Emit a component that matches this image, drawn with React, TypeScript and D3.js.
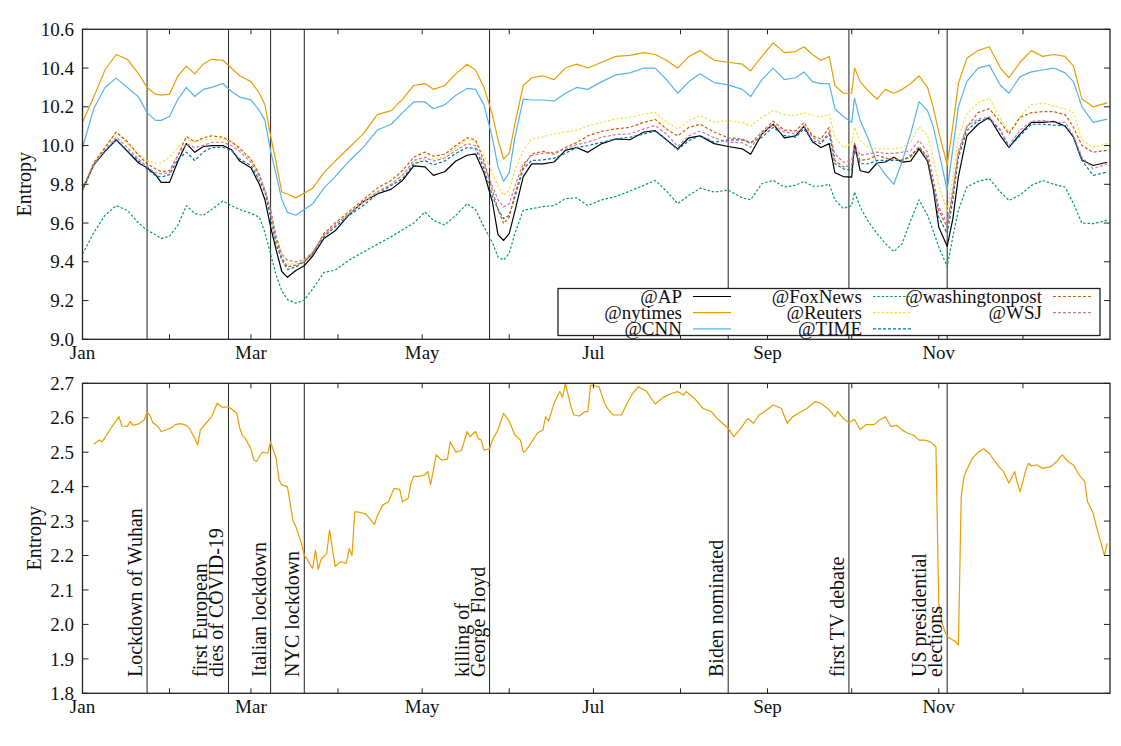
import * as d3 from "d3";

// day index in 2020 (0 = Jan 1) of every sample in the top panel
const sampleDays = [
  0, 4, 8, 12, 16, 20, 23, 26, 28, 31, 34, 37, 40, 43, 46, 50, 53, 56, 60, 63,
  65, 67, 69, 71, 73, 76, 79, 82, 86, 90, 95, 100, 105, 110, 114, 118, 122, 125, 129, 133,
  137, 140, 143, 146, 148, 150, 152, 154, 157, 160, 164, 168, 172, 176, 180, 185, 190, 195, 200, 204,
  208, 212, 216, 220, 225, 230, 235, 238, 242, 246, 250, 254, 257, 260, 263, 266, 268, 271, 274, 275,
  277, 280, 283, 286, 289, 292, 295, 298, 301, 303, 305, 308, 310, 312, 315, 319, 323, 327, 330, 334,
  338, 342, 346, 350, 353, 356, 360, 365,
];

const apValues = [
  9.77, 9.9, 9.97, 10.03, 9.97, 9.91, 9.885, 9.85, 9.81, 9.81,
  9.92, 10.01, 9.965, 9.995, 10.0, 10.0, 9.98, 9.92, 9.885, 9.8,
  9.72, 9.58, 9.46, 9.35, 9.32, 9.355, 9.38, 9.43, 9.52, 9.56,
  9.645, 9.71, 9.75, 9.775, 9.82, 9.895, 9.89, 9.846, 9.865, 9.92,
  9.95, 9.957, 9.86, 9.71, 9.54, 9.51, 9.545, 9.66, 9.84, 9.905,
  9.905, 9.915, 9.975, 9.99, 9.965, 10.01, 10.034, 10.03, 10.07, 10.077,
  10.03, 9.983, 10.04, 10.05, 10.01, 9.995, 9.983, 9.955, 10.06, 10.11,
  10.04, 10.05, 10.1, 10.02, 9.99, 10.01, 9.86, 9.84, 9.837, 10.01,
  9.87, 9.86, 9.91, 9.915, 9.94, 9.914, 9.92, 9.983, 9.92, 9.78,
  9.58, 9.48, 9.62, 9.84, 10.05, 10.11, 10.146, 10.05, 9.99, 10.06,
  10.12, 10.12, 10.125, 10.1, 10.043, 9.925, 9.897, 9.914,
];
const nytimesValues = [
  10.12, 10.25, 10.39, 10.47, 10.445, 10.37, 10.3, 10.265, 10.26, 10.265,
  10.36, 10.41, 10.37, 10.42, 10.445, 10.44, 10.4, 10.36, 10.33, 10.27,
  10.21, 10.05, 9.91, 9.76, 9.75, 9.73, 9.755, 9.78, 9.86, 9.92,
  9.99, 10.06, 10.16, 10.18, 10.24, 10.31, 10.32, 10.29, 10.31, 10.37,
  10.42, 10.39, 10.3, 10.16, 10.03, 9.93, 9.96, 10.11, 10.31, 10.35,
  10.36, 10.34, 10.4, 10.42, 10.4, 10.43, 10.46, 10.465, 10.48, 10.47,
  10.44, 10.4, 10.46, 10.49, 10.44, 10.43, 10.42, 10.385, 10.46, 10.53,
  10.48, 10.485, 10.51, 10.47, 10.44, 10.46, 10.31, 10.27, 10.27, 10.4,
  10.33, 10.28, 10.24, 10.29, 10.27, 10.29, 10.32, 10.36, 10.3, 10.2,
  10.07, 9.9, 10.1, 10.32, 10.45, 10.49, 10.51, 10.4, 10.35, 10.43,
  10.49, 10.46, 10.47, 10.46, 10.41, 10.24, 10.2, 10.22,
];
const cnnValues = [
  9.99, 10.19, 10.3, 10.348, 10.3, 10.25, 10.17, 10.13, 10.13, 10.15,
  10.24, 10.3, 10.253, 10.29, 10.3, 10.32, 10.28, 10.25, 10.236, 10.18,
  10.13, 9.97, 9.85, 9.72, 9.655, 9.64, 9.67, 9.7, 9.78, 9.84,
  9.92, 9.99, 10.08, 10.11, 10.17, 10.225, 10.225, 10.19, 10.21, 10.26,
  10.295, 10.29, 10.21, 10.04, 9.89, 9.815, 9.86, 10.04, 10.24, 10.235,
  10.235, 10.23, 10.27, 10.3, 10.29, 10.33, 10.365, 10.375, 10.4, 10.4,
  10.34, 10.27, 10.33, 10.37, 10.325, 10.313, 10.29, 10.253, 10.34, 10.4,
  10.34, 10.35, 10.38, 10.33, 10.32, 10.32, 10.19, 10.15, 10.12, 10.245,
  10.13, 10.03, 9.91, 9.85, 9.8, 9.92, 10.06, 10.227, 10.18, 10.1,
  9.97, 9.77, 9.98, 10.2, 10.33, 10.4, 10.415, 10.31, 10.27, 10.356,
  10.38, 10.39, 10.4, 10.375, 10.33, 10.2, 10.12, 10.136,
];
const foxnewsValues = [
  9.44, 9.55, 9.64, 9.69, 9.665, 9.6, 9.563, 9.54, 9.52, 9.532,
  9.59, 9.69, 9.649, 9.64, 9.67, 9.714, 9.69, 9.67, 9.65, 9.63,
  9.55, 9.44, 9.33, 9.25, 9.205, 9.186, 9.203, 9.26, 9.345, 9.357,
  9.409, 9.45, 9.49, 9.53, 9.565, 9.6, 9.657, 9.614, 9.59, 9.64,
  9.7, 9.67, 9.58, 9.5, 9.426, 9.409, 9.443, 9.546, 9.666, 9.674,
  9.685, 9.69, 9.726, 9.73, 9.69, 9.72, 9.737, 9.765, 9.795, 9.82,
  9.765, 9.7, 9.743, 9.78, 9.76, 9.77, 9.73, 9.72, 9.803, 9.82,
  9.786, 9.795, 9.815, 9.79, 9.79, 9.8, 9.72, 9.675, 9.69, 9.76,
  9.683, 9.606, 9.546, 9.494, 9.452, 9.494, 9.614, 9.72, 9.64, 9.56,
  9.477, 9.375, 9.529, 9.666, 9.786, 9.815, 9.829, 9.76, 9.717, 9.745,
  9.794, 9.82, 9.8, 9.786, 9.7, 9.6, 9.597, 9.614,
];
const reutersValues = [
  9.78, 9.91, 9.99, 10.07, 10.01, 9.955, 9.923, 9.91, 9.91, 9.94,
  9.99, 10.03, 10.02, 10.03, 10.034, 10.034, 10.02, 9.99, 9.923, 9.85,
  9.77, 9.65, 9.52, 9.44, 9.39, 9.388, 9.405, 9.45, 9.537, 9.59,
  9.65, 9.7, 9.765, 9.8, 9.85, 9.91, 9.93, 9.93, 9.94, 9.99,
  10.03, 10.02, 9.95, 9.86, 9.79, 9.743, 9.77, 9.87, 9.974, 10.034,
  10.045, 10.06, 10.07, 10.08, 10.1, 10.12, 10.137, 10.146, 10.163, 10.17,
  10.12, 10.086, 10.129, 10.155, 10.12, 10.129, 10.12, 10.1, 10.146, 10.18,
  10.16, 10.155, 10.17, 10.155, 10.146, 10.163, 10.043, 9.99, 10.009, 10.094,
  10.026, 9.99, 9.983, 9.983, 9.983, 9.99, 10.017, 10.098, 10.05, 9.94,
  9.8, 9.66, 9.837, 10.043, 10.163, 10.22, 10.245, 10.14, 10.07, 10.15,
  10.21, 10.22, 10.205, 10.19, 10.17, 10.03, 9.99, 10.01,
];
const timeValues = [
  9.78, 9.9, 9.97, 10.03, 9.974, 9.92, 9.88, 9.845, 9.837, 9.85,
  9.93, 9.966, 9.923, 9.966, 9.99, 9.99, 9.975, 9.93, 9.897, 9.82,
  9.76, 9.63, 9.49, 9.41, 9.36, 9.374, 9.4, 9.443, 9.529, 9.58,
  9.64, 9.69, 9.75, 9.794, 9.829, 9.906, 9.923, 9.9, 9.92, 9.96,
  9.99, 9.985, 9.88, 9.74, 9.67, 9.623, 9.64, 9.734, 9.88, 9.923,
  9.926, 9.935, 9.96, 9.99, 10.0, 10.017, 10.034, 10.043, 10.06, 10.074,
  10.03, 9.978, 10.026, 10.051, 10.017, 10.029, 10.029, 10.017, 10.043, 10.094,
  10.051, 10.043, 10.086, 10.026, 10.009, 10.06, 9.906, 9.88, 9.871, 9.974,
  9.906, 9.906, 9.923, 9.923, 9.923, 9.923, 9.949, 9.991, 9.923, 9.786,
  9.63, 9.546, 9.717, 9.94, 10.077, 10.129, 10.137, 10.077, 9.991, 10.051,
  10.11, 10.11, 10.105, 10.103, 10.043, 9.923, 9.846, 9.863,
];
const washingtonpostValues = [
  9.77, 9.91, 9.99, 10.07, 10.02, 9.95, 9.906, 9.88, 9.866, 9.87,
  9.95, 10.046, 10.02, 10.04, 10.05, 10.043, 10.02, 9.985, 9.93, 9.85,
  9.77, 9.666, 9.52, 9.42, 9.374, 9.383, 9.4, 9.443, 9.546, 9.6,
  9.66, 9.72, 9.78, 9.82, 9.871, 9.94, 9.966, 9.945, 9.955, 10.0,
  10.04, 10.03, 9.92, 9.77, 9.67, 9.597, 9.63, 9.75, 9.89, 9.957,
  9.97, 9.955, 9.99, 10.015, 10.05, 10.074, 10.086, 10.094, 10.12, 10.135,
  10.085, 10.05, 10.094, 10.11, 10.07, 10.04, 10.034, 10.01, 10.07, 10.125,
  10.08, 10.075, 10.12, 10.05, 10.034, 10.094, 9.923, 9.89, 9.897, 9.99,
  9.923, 9.93, 9.95, 9.935, 9.93, 9.925, 9.94, 9.995, 9.94, 9.8,
  9.666, 9.58, 9.75, 9.957, 10.094, 10.17, 10.19, 10.12, 10.06, 10.146,
  10.17, 10.175, 10.175, 10.16, 10.094, 10.0, 9.966, 9.975,
];
const wsjValues = [
  9.77, 9.9, 9.98, 10.043, 9.99, 9.93, 9.892, 9.86, 9.854, 9.86,
  9.95, 10.009, 9.99, 10.0, 10.017, 10.017, 10.0, 9.97, 9.914, 9.84,
  9.77, 9.666, 9.53, 9.44, 9.409, 9.4, 9.41, 9.45, 9.537, 9.59,
  9.65, 9.71, 9.76, 9.8, 9.846, 9.923, 9.94, 9.92, 9.935, 9.975,
  10.01, 10.0, 9.9, 9.79, 9.72, 9.683, 9.7, 9.79, 9.906, 9.949,
  9.96, 9.965, 9.98, 10.005, 10.017, 10.043, 10.057, 10.06, 10.086, 10.103,
  10.06, 9.995, 10.05, 10.075, 10.04, 10.017, 10.015, 9.991, 10.06, 10.11,
  10.07, 10.06, 10.1, 10.043, 10.017, 10.068, 9.957, 9.914, 9.923, 10.009,
  9.95, 9.957, 9.966, 9.96, 9.96, 9.966, 9.974, 10.026, 9.966, 9.829,
  9.683, 9.6, 9.77, 9.974, 10.1, 10.137, 10.146, 10.08, 10.0, 10.08,
  10.125, 10.13, 10.12, 10.12, 10.051, 9.94, 9.88, 9.906,
];

// bottom panel: entropy of the whole corpus
const bottomDays = [
  4, 6, 7, 9, 11, 13, 14, 16, 17, 18,
  20, 22, 23, 24, 25, 27, 28, 30, 32, 33,
  35, 37, 38, 40, 41, 42, 44, 46, 48, 50,
  52, 55, 56, 57, 58, 60, 61, 62, 64, 66,
  67, 69, 70, 71, 73, 74, 75, 76, 77, 78,
  79, 80, 81, 82, 83, 84, 85, 86, 87, 88,
  90, 92, 94, 95, 96, 97, 99, 101, 103, 104,
  105, 107, 109, 111, 113, 114, 116, 117, 118, 120,
  122, 123, 124, 126, 128, 130, 131, 133, 135, 137,
  138, 140, 141, 142, 143, 145, 146, 148, 150, 152,
  154, 156, 157, 158, 160, 162, 164, 165, 166, 168,
  170, 171, 172, 174, 175, 177, 179, 180, 181, 184,
  186, 187, 189, 192, 194, 196, 198, 201, 204, 207,
  210, 212, 214, 215, 218, 221, 224, 226, 228, 230,
  232, 234, 237, 239, 241, 243, 246, 249, 251, 253,
  255, 258, 261, 263, 266, 268, 269, 271, 273, 275,
  277, 279, 282, 284, 286, 288, 290, 292, 294, 296,
  298, 300, 302, 304, 305, 306, 307, 308, 309, 310,
  311, 312, 313, 314, 315, 317, 319, 321, 323, 325,
  327, 328, 330, 332, 333, 334, 336, 337, 338, 340,
  342, 345, 347, 349, 351, 353, 355, 357, 358, 360,
  361, 363, 364, 365,
];
const bottomValues = [
  2.524, 2.535, 2.53, 2.555, 2.58, 2.603, 2.576, 2.575, 2.589, 2.578,
  2.582, 2.594, 2.615, 2.608, 2.586, 2.574, 2.56, 2.565, 2.572, 2.58,
  2.583, 2.578, 2.57, 2.54, 2.52, 2.565, 2.584, 2.603, 2.642, 2.63,
  2.632, 2.613, 2.57, 2.548, 2.54, 2.51, 2.478, 2.473, 2.5, 2.497,
  2.53, 2.482, 2.42, 2.405, 2.4, 2.35, 2.3, 2.284, 2.26, 2.235,
  2.2, 2.19, 2.175, 2.163, 2.216, 2.16, 2.19, 2.197, 2.206, 2.274,
  2.168, 2.182, 2.177, 2.22, 2.2, 2.327, 2.325, 2.32, 2.3, 2.29,
  2.315, 2.347, 2.356, 2.395, 2.392, 2.356, 2.366, 2.41, 2.43, 2.43,
  2.434, 2.444, 2.405, 2.492, 2.477, 2.48, 2.53, 2.5, 2.505, 2.56,
  2.545, 2.56, 2.54, 2.535, 2.506, 2.51, 2.535, 2.565, 2.613, 2.59,
  2.55, 2.535, 2.5, 2.505, 2.53, 2.555, 2.565, 2.603, 2.59, 2.642,
  2.676, 2.66, 2.7, 2.632, 2.608, 2.605, 2.618, 2.618, 2.695, 2.69,
  2.642, 2.627, 2.608, 2.608, 2.642, 2.671, 2.69, 2.676, 2.64, 2.66,
  2.671, 2.676, 2.666, 2.676, 2.656, 2.627, 2.618, 2.598, 2.584, 2.569,
  2.545, 2.564, 2.598, 2.584, 2.608, 2.618, 2.637, 2.627, 2.584, 2.603,
  2.613, 2.627, 2.647, 2.642, 2.623, 2.603, 2.618, 2.598, 2.586, 2.595,
  2.565, 2.58, 2.58, 2.594, 2.603, 2.574, 2.578, 2.564, 2.555, 2.55,
  2.535, 2.535, 2.53, 2.516, 2.06, 2.01, 1.984, 1.965, 1.96, 1.955,
  1.95, 1.94, 2.371, 2.43, 2.45, 2.482, 2.5, 2.51, 2.497, 2.473,
  2.453, 2.445, 2.41, 2.444, 2.41, 2.385, 2.448, 2.468, 2.46, 2.463,
  2.453, 2.458, 2.473, 2.492, 2.473, 2.463, 2.434, 2.415, 2.356, 2.323,
  2.289, 2.23, 2.2, 2.235,
];

const seriesNames = ["@AP", "@nytimes", "@CNN", "@FoxNews", "@Reuters", "@TIME", "@washingtonpost", "@WSJ"];

const eventDays = [23, 52, 67, 79, 145, 230, 273, 308];
const eventLabels = [
  ["Lockdown of Wuhan"],
  ["first European", "dies of COVID-19"],
  ["Italian lockdown"],
  ["NYC lockdown"],
  ["killing of", "George Floyd"],
  ["Biden nominated"],
  ["first TV debate"],
  ["US presidential", "elections"],
];

const topTicks = [9.0, 9.2, 9.4, 9.6, 9.8, 10.0, 10.2, 10.4, 10.6];
const bottomTicks = [1.8, 1.9, 2.0, 2.1, 2.2, 2.3, 2.4, 2.5, 2.6, 2.7];

const WIDTH = 1121;
const HEIGHT = 746;
const LEFT = 82.5;
const RIGHT = 1110;
const TOP_PANEL = { top: 29.3, bottom: 339.3 };
const BOTTOM_PANEL = { top: 383.3, bottom: 693.3 };
const FONT = "Liberation Serif";
const FONT_SIZE = 19;

const toDate = (d: number) => new Date(2020, 0, 1 + d);

const series = [
  { name: seriesNames[0], values: apValues, color: "#000000", dash: null },
  { name: seriesNames[1], values: nytimesValues, color: "#E69F00", dash: null },
  { name: seriesNames[2], values: cnnValues, color: "#56B4E9", dash: null },
  { name: seriesNames[3], values: foxnewsValues, color: "#009E73", dash: "2.5,1.8" },
  { name: seriesNames[4], values: reutersValues, color: "#F0E442", dash: "2.5,1.8" },
  { name: seriesNames[5], values: timeValues, color: "#0072B2", dash: "3,2" },
  { name: seriesNames[6], values: washingtonpostValues, color: "#D55E00", dash: "3,2" },
  { name: seriesNames[7], values: wsjValues, color: "#CC79A7", dash: "3,2" },
];

const x = d3.scaleTime().domain([new Date(2020, 0, 1), new Date(2021, 0, 1)]).range([LEFT, RIGHT]);
const monthTicks = d3.timeMonth.range(new Date(2020, 0, 1), new Date(2021, 0, 1));
const fmtMonth = d3.timeFormat("%b");

type PanelProps = {
  y: d3.ScaleLinear<number, number>;
  top: number;
  bottom: number;
  ticks: number[];
  id: string;
  labelX: number;
  children?: any;
};

const Panel = ({ y, top, bottom, ticks, id, labelX, children }: PanelProps) => {
  return (
    <g>
      <defs>
        <clipPath id={id}>
          <rect x={LEFT} y={top} width={RIGHT - LEFT} height={bottom - top} />
        </clipPath>
      </defs>
      {eventDays.map((d, i) => (
        <line key={i} x1={x(toDate(d))} x2={x(toDate(d))} y1={top} y2={bottom} stroke="#222" strokeWidth={1} />
      ))}
      <g clipPath={`url(#${id})`}>{children}</g>
      {/* x ticks, mirrored on top */}
      {monthTicks.map((m, i) => (
        <g key={i}>
          <line x1={x(m)} x2={x(m)} y1={bottom} y2={bottom - 5} stroke="#222" />
          <line x1={x(m)} x2={x(m)} y1={top} y2={top + 5} stroke="#222" />
          {m.getMonth() % 2 === 0 && (
            <text x={x(m)} y={bottom + 19.5} textAnchor="middle" fontFamily={FONT} fontSize={FONT_SIZE} fill="#111">
              {fmtMonth(m)}
            </text>
          )}
        </g>
      ))}
      {ticks.map((t) => (
        <g key={t}>
          <line x1={LEFT} x2={LEFT + 6} y1={y(t)} y2={y(t)} stroke="#222" />
          <line x1={RIGHT} x2={RIGHT - 6} y1={y(t)} y2={y(t)} stroke="#222" />
          <text x={LEFT - 8.5} y={y(t)} dy="0.35em" textAnchor="end" fontFamily={FONT} fontSize={FONT_SIZE} fill="#111">
            {t.toFixed(1)}
          </text>
        </g>
      ))}
      <text
        transform={`translate(${labelX}, ${(top + bottom) / 2}) rotate(-90)`}
        textAnchor="middle"
        fontFamily={FONT}
        fontSize={FONT_SIZE + 1}
        fill="#111"
      >
        Entropy
      </text>
    </g>
  );
};

const Frame = ({ top, bottom }: { top: number; bottom: number }) => (
  <rect x={LEFT} y={top} width={RIGHT - LEFT} height={bottom - top} fill="none" stroke="#222" strokeWidth={1.3} />
);

const App = () => {
  const yTop = d3.scaleLinear().domain([9.0, 10.6]).range([TOP_PANEL.bottom, TOP_PANEL.top]);
  const yBottom = d3.scaleLinear().domain([1.8, 2.7]).range([BOTTOM_PANEL.bottom, BOTTOM_PANEL.top]);

  const topLine = d3
    .line<number>()
    .x((_, i) => x(toDate(sampleDays[i])))
    .y((v) => yTop(v));

  const bottomLine = d3
    .line<number>()
    .x((_, i) => x(toDate(bottomDays[i])))
    .y((v) => yBottom(v));

  // legend: 3 rows per column, label right aligned before the sample line
  const legendBox = { x0: 558, x1: 1100, y0: 288.5, y1: 335.5 };
  const colRight = [682, 862, 1042];
  const rowY = [296.5, 312.7, 328.9];

  return (
    <svg width={WIDTH} height={HEIGHT} style={{ position: "absolute", left: 0, top: 0, background: "#fff" }}>
      <Panel y={yTop} top={TOP_PANEL.top} bottom={TOP_PANEL.bottom} ticks={topTicks} id="clipTop" labelX={31}>
        {series.map((s) => (
          <path
            key={s.name}
            d={topLine(s.values) ?? undefined}
            fill="none"
            stroke={s.color}
            strokeWidth={1.2}
            strokeDasharray={s.dash ?? undefined}
            strokeLinejoin="round"
          />
        ))}
      </Panel>

      <g>
        <rect
          x={legendBox.x0}
          y={legendBox.y0}
          width={legendBox.x1 - legendBox.x0}
          height={legendBox.y1 - legendBox.y0}
          fill="#fff"
          stroke="#222"
          strokeWidth={1.3}
        />
        {series.map((s, i) => {
          const col = Math.floor(i / 3);
          const row = i % 3;
          const xr = colRight[col];
          const yy = rowY[row];
          return (
            <g key={s.name}>
              <text x={xr} y={yy} dy="0.33em" textAnchor="end" fontFamily={FONT} fontSize={FONT_SIZE} fill="#111">
                {s.name}
              </text>
              <line
                x1={xr + 11}
                x2={xr + 49}
                y1={yy}
                y2={yy}
                stroke={s.color}
                strokeWidth={1.2}
                strokeDasharray={s.dash ?? undefined}
              />
            </g>
          );
        })}
      </g>
      <Frame top={TOP_PANEL.top} bottom={TOP_PANEL.bottom} />

      <Panel y={yBottom} top={BOTTOM_PANEL.top} bottom={BOTTOM_PANEL.bottom} ticks={bottomTicks} id="clipBottom" labelX={40.5}>
        <path d={bottomLine(bottomValues) ?? undefined} fill="none" stroke="#E69F00" strokeWidth={1.2} strokeLinejoin="round" />
      </Panel>
      {eventDays.map((d, i) => {
        const ex = x(toDate(d));
        const lines = eventLabels[i];
        return (
          <g key={i}>
            {lines.map((txt, j) => {
              const bx = ex - 5 - (lines.length - 1 - j) * 16;
              return (
                <text
                  key={j}
                  transform={`translate(${bx}, 677) rotate(-90)`}
                  textAnchor="start"
                  fontFamily={FONT}
                  fontSize={FONT_SIZE + 1}
                  fill="#111"
                >
                  {txt}
                </text>
              );
            })}
          </g>
        );
      })}
      <Frame top={BOTTOM_PANEL.top} bottom={BOTTOM_PANEL.bottom} />
    </svg>
  );
};

export default App;
